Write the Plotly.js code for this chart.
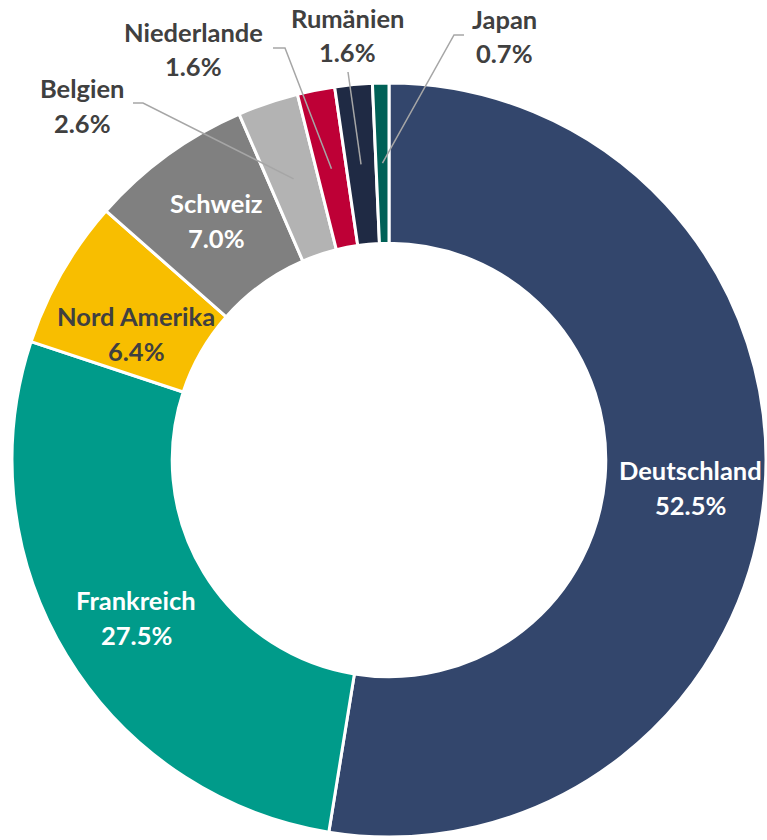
<!DOCTYPE html>
<html>
<head>
<meta charset="utf-8">
<script src="https://cdn.plot.ly/plotly-3.0.1.min.js"></script>
<style>html,body{margin:0;padding:0;background:#fff;}#chart{width:767px;height:840px;}</style>
</head>
<body>
<div id="chart"></div>
<script>
// ---- data ----
const labels = ['Deutschland', 'Frankreich', 'Nord Amerika', 'Schweiz', 'Belgien', 'Niederlande', 'Rumänien', 'Japan'];
const values = [52.5, 27.5, 6.4, 7.0, 2.6, 1.6, 1.6, 0.7];
const pctText = ['52.5%', '27.5%', '6.4%', '7.0%', '2.6%', '1.6%', '1.6%', '0.7%'];

// ---- styles ----
const colors = ['#33466c', '#009b8a', '#f8be00', '#808080', '#b3b3b3', '#be0036', '#1f2a44', '#006157'];
const inside = [true, true, true, true, false, false, false, false];
const insideColor = ['#ffffff', '#ffffff', '#404040', '#ffffff'];
const insideNudge = [[6, 4], [1, 3], [5, 21], [2, 1]];
// outside label centres (px) and leader start points (px)
const outLabel = {4: [82, 105], 5: [193, 49], 6: [347, 35], 7: [504, 36]};
const outLeader = {4: [[133, 103], [143, 103]], 5: [[273, 48], [285, 48]], 6: [[348, 72]], 7: [[464, 35], [454, 35]]};

const W = 767, H = 840, ML = 12, MR = 1, MT = 83, MB = 3;
const PW = W - ML - MR, PH = H - MT - MB;
const R = Math.min(PW, PH) / 2, HOLE = 0.575;
const CX = ML + PW / 2, CY = MT + PH / 2;
const px2x = x => (x - ML) / PW;
const py2y = y => 1 - (y - MT) / PH;

const total = values.reduce((a, b) => a + b, 0);
let cum = 0;
const mids = values.map(v => { const m = (cum + v / 2) / total * 2 * Math.PI; cum += v; return m; });
const rMid = R * (1 + HOLE) / 2;
const ptAt = (ang, r) => [CX + r * Math.sin(ang), CY - r * Math.cos(ang)];

const FONT = 'Lato, "Open Sans", sans-serif';
const FS = 25.5;
const LS = 17.5;
const annotations = [];
const shapes = [];
labels.forEach((lab, i) => {
  let cxp, cyp, col;
  if (inside[i]) {
    const p = ptAt(mids[i], rMid);
    cxp = p[0] + insideNudge[i][0]; cyp = p[1] + insideNudge[i][1];
    col = insideColor[i];
  } else {
    cxp = outLabel[i][0]; cyp = outLabel[i][1];
    col = '#404040';
    const end = ptAt(mids[i], rMid);
    const pts = outLeader[i].concat([end]);
    const path = pts.map((p, k) => (k ? 'L ' : 'M ') + px2x(p[0]).toFixed(5) + ' ' + py2y(p[1]).toFixed(5)).join(' ');
    shapes.push({type: 'path', xref: 'paper', yref: 'paper', path: path, line: {color: '#a6a6a6', width: 1.5}});
  }
  [[lab, -LS], [pctText[i], LS]].forEach(([t, dy]) => {
    annotations.push({
      text: '<b>' + t + '</b>', xref: 'paper', yref: 'paper',
      x: px2x(cxp), y: py2y(cyp + dy), xanchor: 'center', yanchor: 'middle',
      showarrow: false, font: {family: FONT, size: FS, color: col}
    });
  });
});

const trace = {
  type: 'pie', labels: labels, values: values, hole: HOLE, sort: false,
  direction: 'clockwise', rotation: 0, textinfo: 'none', hoverinfo: 'label+value',
  marker: {colors: colors, line: {color: '#ffffff', width: 3}},
  domain: {x: [0, 1], y: [0, 1]}, showlegend: false
};

const layout = {
  width: W, height: H, margin: {l: ML, r: MR, t: MT, b: MB, pad: 0},
  paper_bgcolor: '#ffffff', plot_bgcolor: '#ffffff', showlegend: false,
  annotations: annotations, shapes: shapes
};

Plotly.newPlot('chart', [trace], layout, {displayModeBar: false, staticPlot: true});
</script>
</body>
</html>
